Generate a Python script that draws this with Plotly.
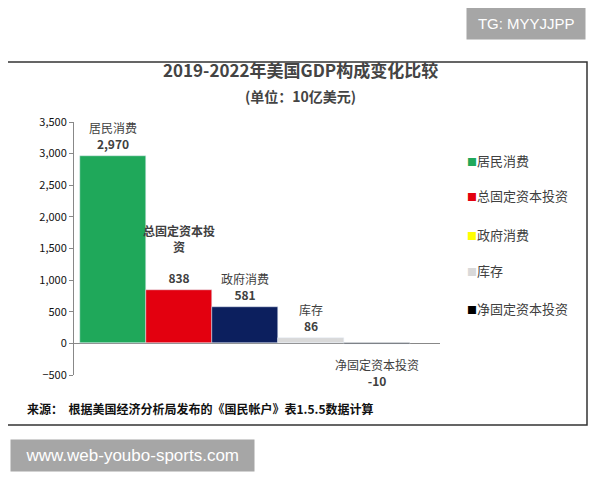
import plotly.graph_objects as go

cats = ["居民消费", "总固定资本投资", "政府消费", "库存", "净固定资本投资"]
vals = [2970, 838, 581, 86, -10]
bar_colors = ["#1fa85a", "#e3000f", "#0c1f5e", "#d9d9d9", "#111111"]
legend_colors = ["#1fa85a", "#e3000f", "#ffff00", "#d9d9d9", "#000000"]
bar_labels = ["居民消费<br><b>2,970</b>", "<b>总固定资本投<br>资<br><br>838</b>", "政府消费<br><b>581</b>",
              "库存<br><b>86</b>", "净固定资本投资<br><b>-10</b>"]
tickvals = list(range(-500, 3501, 500))

fig = go.Figure()
for i, (c, v) in enumerate(zip(cats, vals)):
    fig.add_bar(x=[i], y=[v], width=1, marker_color=bar_colors[i], showlegend=False, name=c)

F = "Noto Sans CJK SC"
OFF = 8
def px(x): return (x - OFF) / 600
def py(y): return 1 - (y - OFF) / 480

ann = []
for i, (c, v) in enumerate(zip(cats, vals)):
    ann.append(dict(x=i, y=max(v, 0), xref="x", yref="y", text=bar_labels[i], showarrow=False,
                    yanchor="bottom", yshift=2 if i != 4 else -48, font=dict(family=F, size=12, color="#404040")))
leg_y = [160, 196, 234, 270, 308]
for i, c in enumerate(cats):
    ann.append(dict(xref="paper", yref="paper", x=px(465), y=py(leg_y[i]), xanchor="left", yanchor="middle",
                    showarrow=False,
                    text=f"<span style='color:{legend_colors[i]};font-size:10px'>■</span>{c}",
                    font=dict(family=F, size=13, color="#404040")))
ann += [
    dict(xref="paper", yref="paper", x=px(300), y=py(70), xanchor="center", yanchor="middle",
         text="<b>2019-2022年美国GDP构成变化比较</b>",
         showarrow=False, font=dict(family=F, size=17, color="#444")),
    dict(xref="paper", yref="paper", x=px(300), y=py(96), xanchor="center", yanchor="middle",
         text="<b>(单位：10亿美元)</b>", showarrow=False,
         font=dict(family=F, size=14, color="#444")),
    dict(xref="paper", yref="paper", x=px(25), y=py(408), xanchor="left", yanchor="middle",
         text="<b>来源：  根据美国经济分析局发布的《国民帐户》表1.5.5数据计算</b>", showarrow=False,
         font=dict(family=F, size=12, color="#111")),
    dict(xref="paper", yref="paper", x=px(526), y=py(24), xanchor="center", yanchor="middle",
         text=" TG: MYYJJPP ", showarrow=False,
         bgcolor="#a6a6a6", borderpad=7, font=dict(family="Liberation Sans", size=15, color="white")),
    dict(xref="paper", yref="paper", x=px(10), y=py(455), xanchor="left", yanchor="middle",
         text="  www.web-youbo-sports.com  ", showarrow=False,
         bgcolor="#a6a6a6", borderpad=6, font=dict(family="Liberation Sans", size=17, color="white")),
]

fig.update_layout(
    width=600, height=480, paper_bgcolor="white", plot_bgcolor="white",
    margin=dict(l=0, r=0, t=0, b=0, pad=0, autoexpand=False), bargap=0, annotations=ann,
    xaxis=dict(domain=[px(74), px(440)], range=[-0.59, 4.96], showticklabels=False, showgrid=False, zeroline=False,
               anchor="y"),
    yaxis=dict(domain=[py(375), py(122)], range=[-500, 3500], tickvals=tickvals, tickformat=",",
               showgrid=False, zeroline=True, zerolinecolor="#888", zerolinewidth=1, showline=True,
               linecolor="#888", ticks="outside", ticklen=4, tickcolor="#888",
               tickfont=dict(family=F, size=11, color="#111"), anchor="x"),
    shapes=[dict(type="rect", xref="paper", yref="paper", x0=px(3), x1=px(587), y0=py(425), y1=py(62),
                 line=dict(color="#333", width=1.5))],
)
fig.write_html("out.html", config={"displayModeBar": False})
